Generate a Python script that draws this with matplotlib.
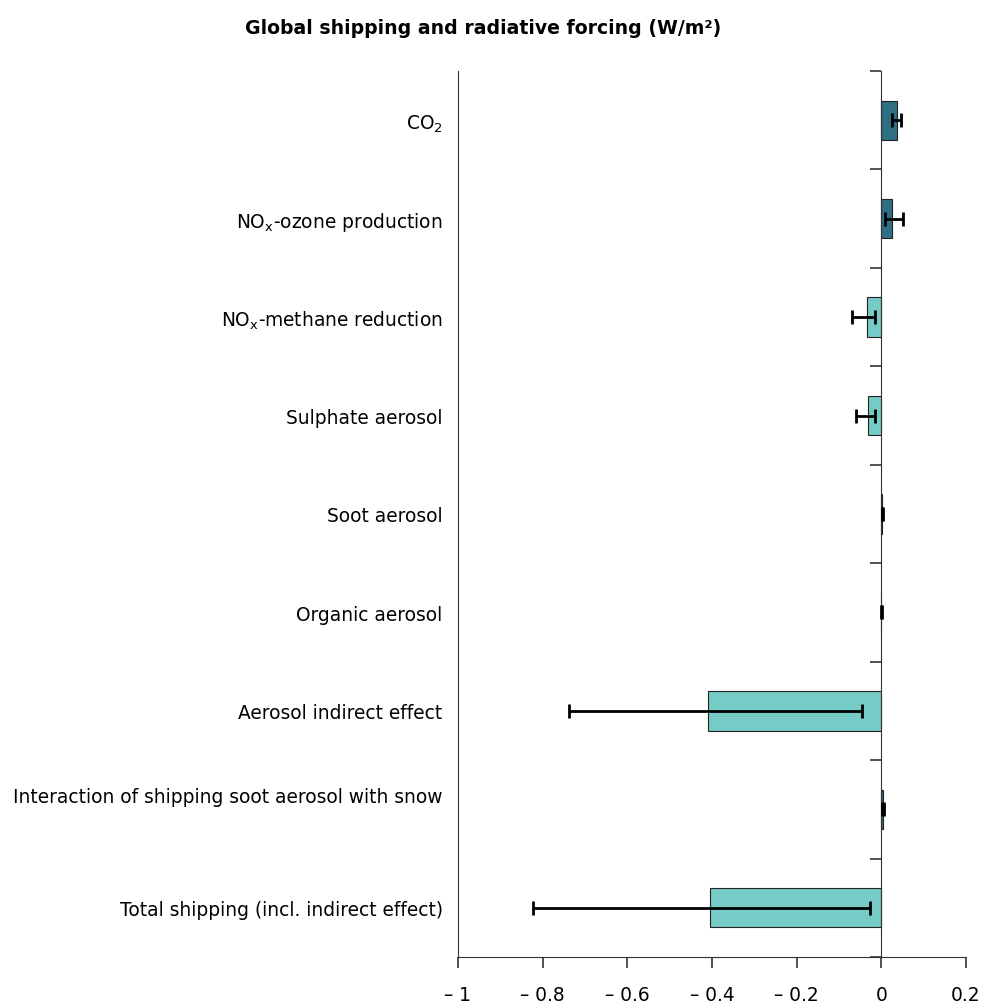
import matplotlib
matplotlib.use("Agg")
import matplotlib.pyplot as plt
import matplotlib.transforms as mtransforms
from matplotlib.ticker import FixedLocator, FixedFormatter
import numpy as np

categories = [
    "CO$_2$",
    "NO$_\\mathregular{x}$-ozone production",
    "NO$_\\mathregular{x}$-methane reduction",
    "Sulphate aerosol",
    "Soot aerosol",
    "Organic aerosol",
    "Aerosol indirect effect",
    "Interaction of shipping soot aerosol with snow",
    "Total shipping (incl. indirect effect)",
]
values = [0.037, 0.025, -0.033, -0.031, 0.002, -0.0005, -0.41, 0.004, -0.405]
err_low = [0.026, 0.009, -0.070, -0.060, 0.001, -0.001, -0.737, 0.002, -0.824]
err_high = [0.047, 0.050, -0.015, -0.015, 0.004, 0.001, -0.046, 0.006, -0.026]
xticks = [-1, -0.8, -0.6, -0.4, -0.2, 0, 0.2]
xticklabels = ["\u2013 1", "\u2013 0.8", "\u2013 0.6", "\u2013 0.4", "\u2013 0.2", "0", "0.2"]
title = "Global shipping and radiative forcing (W/m\u00b2)"

dark = "#2e6f84"
light = "#76cbc7"

plt.rcParams['font.family'] = ['DejaVu Sans']
plt.rcParams['mathtext.fontset'] = 'dejavusans'
fig = plt.figure(figsize=(9.81, 10.03), dpi=100)
ax = fig.add_axes([458/981, 1-958/1003, (966-458)/981, (958-72)/1003])

y = np.arange(len(categories))
vals = np.array(values)
colors = [dark if v > 0 else light for v in vals]
ax.barh(y, vals, height=0.4, color=colors, edgecolor="#222222", linewidth=0.8, zorder=2)
lo = vals - np.array(err_low)
hi = np.array(err_high) - vals
ax.errorbar(vals, y, xerr=[lo, hi], fmt="none", ecolor="black", elinewidth=2,
            capsize=5, capthick=2, zorder=3)

ax.set_xlim(-1, 0.2)
ax.set_ylim(8.5, -0.5)

ax.spines["top"].set_visible(False)
ax.spines["right"].set_position(("data", 0))
for s in ["right", "left", "bottom"]:
    ax.spines[s].set_color("#333333")

ax.yaxis.set_major_locator(FixedLocator(y))
ax.yaxis.set_major_formatter(FixedFormatter(categories))
ax.yaxis.set_minor_locator(FixedLocator(np.arange(-0.5, len(categories), 1.0)))
ax.tick_params(axis="y", which="major", left=False, right=False, length=0,
               labelleft=True, labelsize=13.4, pad=11)
ax.tick_params(axis="y", which="minor", left=False, right=True, direction="in",
               length=8, width=1.2, color="#333333")

ax.xaxis.set_major_locator(FixedLocator(xticks))
ax.xaxis.set_major_formatter(FixedFormatter(xticklabels))
ax.tick_params(axis="x", which="major", direction="out", length=8, width=1.2,
               color="#333333", labelsize=13.4, pad=12)

# shift the snow label up slightly as in the reference
lab = ax.get_yticklabels()[7]
lab.set_transform(lab.get_transform() + mtransforms.ScaledTranslation(0, 15/100, fig.dpi_scale_trans))

fig.text(483/981, 1-28/1003, title, ha="center", va="center", fontsize=13.6, fontweight="bold")

fig.savefig("out.png", dpi=100, facecolor="white")
